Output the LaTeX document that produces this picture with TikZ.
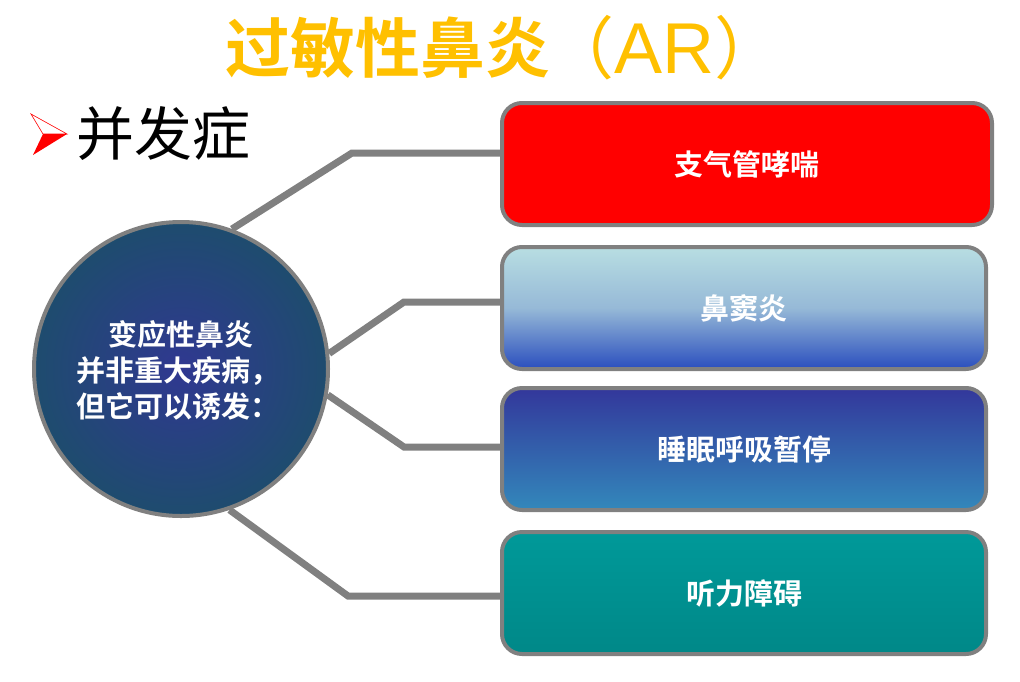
\documentclass[tikz,border=0pt]{standalone}
\usepackage{fontspec}
\newfontfamily\cjk{Noto Sans CJK SC}
\newfontfamily\cjkb{Noto Sans CJK SC Bold}
\newfontfamily\latn{Liberation Sans}
\definecolor{conngray}{RGB}{128,128,128}
\definecolor{titlegold}{RGB}{255,192,0}
\definecolor{circin}{RGB}{48,56,145}
\definecolor{circout}{RGB}{30,76,110}
\definecolor{bxtwotop}{RGB}{184,222,226}
\definecolor{bxtwomid}{RGB}{150,185,215}
\definecolor{bxtwobot}{RGB}{42,78,190}
\definecolor{bxthreetop}{RGB}{51,55,155}
\definecolor{bxthreebot}{RGB}{51,136,187}
\definecolor{bxfourtop}{RGB}{0,153,153}
\definecolor{bxfourbot}{RGB}{0,136,136}
\tikzset{
  conn/.style={draw=conngray, line width=7pt, line join=miter},
  boxnode/.style={rectangle, rounded corners=20pt, draw=conngray, line width=4pt,
    minimum height=122pt, text=white, font=\cjkb\fontsize{29}{32}\selectfont},
  circnode/.style={circle, draw=conngray, line width=4pt, minimum size=294pt,
    inner color=circin, outer color=circout}
}
\begin{document}
\begin{tikzpicture}[x=1pt,y=-1pt]
\useasboundingbox[fill=white] (0,0) rectangle (1020,681);
% title
\node[text=titlegold, font=\cjkb\fontsize{65}{67}\selectfont, anchor=center] (ttl) at (388,48) {过敏性鼻炎};
\node[text=titlegold, font=\cjk\fontsize{68}{70}\selectfont, anchor=west, inner sep=0pt] (ttlar) at (546,48) {（{\latn\fontsize{72}{74}\selectfont AR}）};
% bullet
\path[draw=red, line width=0.6pt, fill=white] (31,114) -- (67,134) -- (43,134) -- cycle;
\path[fill=red] (43,134) -- (67,134) -- (33,155) -- cycle;
\node[font=\cjk\fontsize{58}{60}\selectfont, anchor=west, inner sep=0pt] (bf) at (76,134) {并发症};
% boxes
\node[boxnode, fill=red, minimum width=490pt] (b1) at (747,164) {支气管哮喘};
\node[boxnode, top color=bxtwotop, bottom color=bxtwobot, middle color=bxtwomid, minimum width=484pt] (b2) at (744,308) {鼻窦炎};
\node[boxnode, top color=bxthreetop, bottom color=bxthreebot, minimum width=484pt] (b3) at (744,449) {睡眠呼吸暂停};
\node[boxnode, top color=bxfourtop, bottom color=bxfourbot, minimum width=484pt] (b4) at (744,593) {听力障碍};
% circle
\node[circnode] (c) at (181,369) {};
% connectors
\coordinate (k1) at (352,153);
\coordinate (k2) at (404,302);
\coordinate (k3) at (404,447);
\coordinate (k4) at (348,596);
\draw[conn] (c.70) -- (k1) -- (k1 -| b1.west);
\draw[conn] (c.6) -- (k2) -- (k2 -| b2.west);
\draw[conn] (c.-10) -- (k3) -- (k3 -| b3.west);
\draw[conn] (c.-71) -- (k4) -- (k4 -| b4.west);
\node[text=white, align=center, font=\cjkb\fontsize{29}{36}\selectfont] (ct) at (178,370) {\ 变应性鼻炎\\并非重大疾病，\\但它可以诱发：};
\end{tikzpicture}
\end{document}
